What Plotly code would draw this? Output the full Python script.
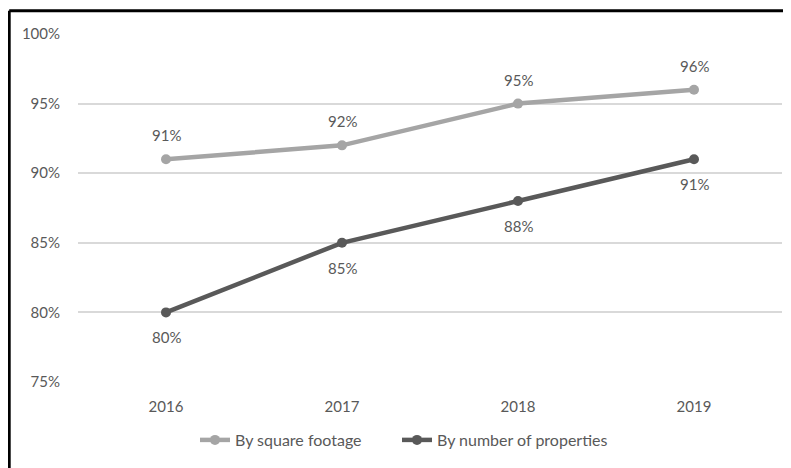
import plotly.graph_objects as go

years = ["2016", "2017", "2018", "2019"]
sq_footage = [91, 92, 95, 96]
num_properties = [80, 85, 88, 91]
y_ticks = [75, 80, 85, 90, 95, 100]
y_tick_labels = ["75%", "80%", "85%", "90%", "95%", "100%"]

# page body has an 8px default margin, so the figure is sized to fit the window
W, H = 783, 460
ml, mr, mt, mb = 70, 9, 26, 86
pw, ph = W - ml - mr, H - mt - mb

FONT = "Lato, Calibri, Carlito, sans-serif"
TXT = "#595959"
LIGHT = "#A5A5A5"
DARK = "#595959"
FS = 15

fig = go.Figure()
fig.add_trace(go.Scatter(x=years, y=sq_footage, mode="lines+markers", name="By square footage",
                         line=dict(color=LIGHT, width=4.5), marker=dict(size=10, color=LIGHT),
                         legend="legend"))
fig.add_trace(go.Scatter(x=years, y=num_properties, mode="lines+markers", name="By number of properties",
                         line=dict(color=DARK, width=4.5), marker=dict(size=10, color=DARK),
                         legend="legend2"))

for i, v in enumerate(sq_footage):
    fig.add_annotation(x=i, y=v, text=f"{v}%", showarrow=False, yshift=24,
                       font=dict(family=FONT, size=FS, color=TXT))
for i, v in enumerate(num_properties):
    fig.add_annotation(x=i, y=v, text=f"{v}%", showarrow=False, yshift=-25,
                       font=dict(family=FONT, size=FS, color=TXT))

# frame lines (top and left) around the chart
xl = (1.2 - ml) / pw
xr = (W + 2 - ml) / pw
yt = 1 + (mt - 2.7) / ph
yb = -(mb + 2) / ph
fig.add_shape(type="line", xref="paper", yref="paper", x0=xl, x1=xr, y0=yt, y1=yt,
              line=dict(color="black", width=3))
fig.add_shape(type="line", xref="paper", yref="paper", x0=xl, x1=xl, y0=yt, y1=yb,
              line=dict(color="black", width=3))

leg_common = dict(orientation="h", xanchor="left", y=-58 / ph, yanchor="middle",
                  font=dict(family=FONT, size=16, color=TXT), bgcolor="rgba(0,0,0,0)")

fig.update_layout(
    width=W, height=H,
    margin=dict(l=ml, r=mr, t=mt, b=mb, autoexpand=False),
    paper_bgcolor="white", plot_bgcolor="white",
    font=dict(family=FONT, size=FS, color=TXT),
    showlegend=True,
    legend=dict(x=(195 - 78) / pw, **leg_common),
    legend2=dict(x=(397 - 78) / pw, **leg_common),
    xaxis=dict(type="category", range=[-0.5, 3.5], showgrid=False, zeroline=False, showline=False,
               ticks="", ticklabelstandoff=14, tickfont=dict(family=FONT, size=FS, color=TXT)),
    yaxis=dict(range=[75, 100], tickvals=y_ticks, ticktext=y_tick_labels,
               showgrid=True, gridcolor="#D9D9D9", gridwidth=1.5, zeroline=False, showline=False,
               ticks="", ticklabelstandoff=17, tickfont=dict(family=FONT, size=FS, color=TXT)),
)

fig.write_html("out.html")
